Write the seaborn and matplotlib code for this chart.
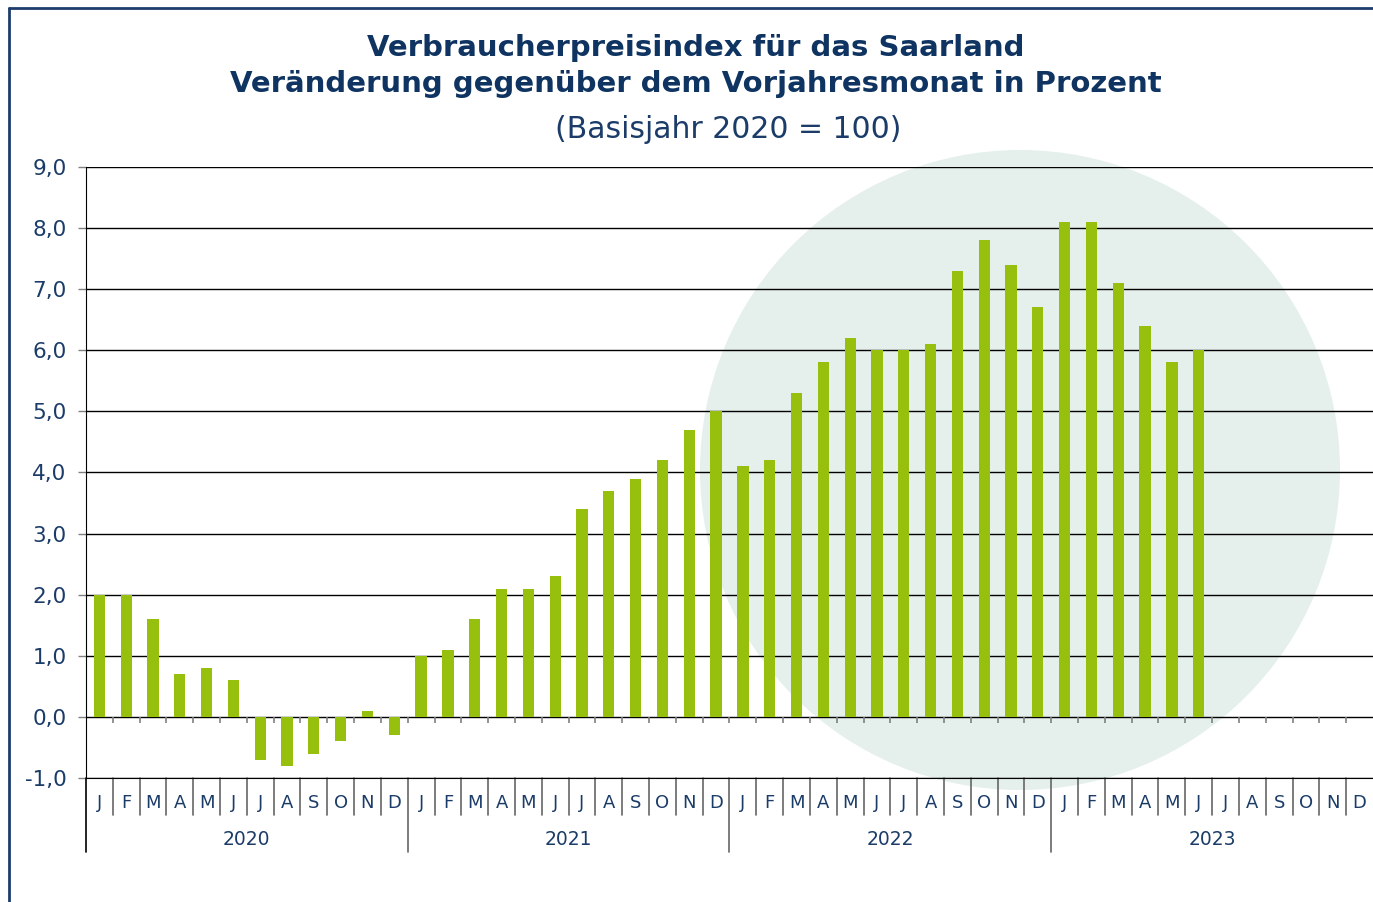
import numpy as np
import pandas as pd
import matplotlib
matplotlib.use("Agg")
import matplotlib.pyplot as plt
import seaborn as sns
from matplotlib.patches import Circle
from matplotlib.lines import Line2D
from matplotlib.transforms import blended_transform_factory

# Daten: Veränderung gegenüber Vorjahresmonat in %
months = ["J", "F", "M", "A", "M", "J", "J", "A", "S", "O", "N", "D"]
years = [2020, 2021, 2022, 2023]
werte_2020 = [2.0, 2.0, 1.6, 0.7, 0.8, 0.6, -0.7, -0.8, -0.6, -0.4, 0.1, -0.3]
werte_2021 = [1.0, 1.1, 1.6, 2.1, 2.1, 2.3, 3.4, 3.7, 3.9, 4.2, 4.7, 5.0]
werte_2022 = [4.1, 4.2, 5.3, 5.8, 6.2, 6.0, 6.0, 6.1, 7.3, 7.8, 7.4, 6.7]
werte_2023 = [8.1, 8.1, 7.1, 6.4, 5.8, 6.0]
yticks = [-1, 0, 1, 2, 3, 4, 5, 6, 7, 8, 9]

title1 = "Verbraucherpreisindex für das Saarland"
title2 = "Veränderung gegenüber dem Vorjahresmonat in Prozent"
subtitle = "(Basisjahr 2020 = 100)"

navy = "#0f3461"
text_col = "#1b3c68"
bar_col = "#97bf0d"

# alle Monatsslots (auch die ohne Wert)
order = [f"{y}-{m:02d}" for y in years for m in range(1, 13)]
rows = []
for y, vals in zip(years, [werte_2020, werte_2021, werte_2022, werte_2023]):
    for i, v in enumerate(vals):
        rows.append({"periode": f"{y}-{i + 1:02d}", "wert": v})
df = pd.DataFrame(rows)

sns.set_style("white")
plt.rcParams["font.family"] = ["DejaVu Sans"]

fig = plt.figure(figsize=(13.73, 9.02), dpi=100)
ax = fig.add_axes([0.0626, 0.1375, 0.9374, 0.6774])
ax.set_facecolor("none")

# heller Kreis im Hintergrund
circle = Circle((10.2, 4.32), 3.2, transform=fig.dpi_scale_trans,
                facecolor="#e5f0ec", edgecolor="none", zorder=-1)
fig.patches.append(circle)

sns.barplot(data=df, x="periode", y="wert", order=order, color=bar_col,
            width=0.42, saturation=1, linewidth=0, ax=ax, zorder=3)

ax.set_xlim(-0.5, len(order) - 0.5)
ax.set_ylim(-1, 9)
ax.set_yticks(yticks)
ax.set_yticklabels([f"{t:.1f}".replace(".", ",") for t in yticks],
                   fontsize=15.5, color=text_col)
ax.tick_params(axis="y", length=6, width=1, color="#808080", pad=8, left=True)
ax.grid(axis="y", color="black", linewidth=1, zorder=1)
ax.set_axisbelow(True)
ax.set_xlabel("")
ax.set_ylabel("")
ax.set_xticks([])

for s in ["top", "right"]:
    ax.spines[s].set_visible(False)
ax.spines["bottom"].set_color("black")
ax.spines["left"].set_color("black")

# kleine Striche an der Nulllinie
bounds = np.arange(0.5, len(order) - 0.5, 1.0)
ax.vlines(bounds, -0.1, 0, color="#808080", linewidth=1.2, zorder=2)

# Monats- und Jahresbeschriftung unterhalb der Achse
tr = blended_transform_factory(ax.transData, ax.transAxes)
for b in bounds:
    long_line = (b + 0.5) % 12 == 0
    y_end = -0.121 if long_line else -0.0606
    ax.add_line(Line2D([b, b], [0, y_end], transform=tr, color="#666666",
                       linewidth=1.2, clip_on=False))
ax.add_line(Line2D([-0.5, -0.5], [0, -0.121], transform=tr, color="black",
                   linewidth=1.2, clip_on=False))

for i, p in enumerate(order):
    ax.text(i, -0.041, months[i % 12], transform=tr, ha="center", va="center",
            fontsize=13, color=text_col)
for k, y in enumerate(years):
    ax.text(k * 12 + 5.5, -0.1015, str(y), transform=tr, ha="center",
            va="center", fontsize=13.5, color=text_col)

# Titel
fig.text(0.507, 1 - 48 / 902, title1, ha="center", va="center",
         fontsize=21, fontweight="bold", color=navy)
fig.text(0.507, 1 - 84 / 902, title2, ha="center", va="center",
         fontsize=21, fontweight="bold", color=navy)
fig.text(0.530, 1 - 130 / 902, subtitle, ha="center", va="center",
         fontsize=21.5, color=text_col)

# Rahmen links und oben
fig.add_artist(Line2D([9 / 1373, 9 / 1373], [0, 1 - 8 / 902],
                      transform=fig.transFigure, color="#1f3c6e", linewidth=2))
fig.add_artist(Line2D([9 / 1373, 1], [1 - 8 / 902, 1 - 8 / 902],
                      transform=fig.transFigure, color="#1f3c6e", linewidth=2))

fig.savefig("out.png", dpi=100)
